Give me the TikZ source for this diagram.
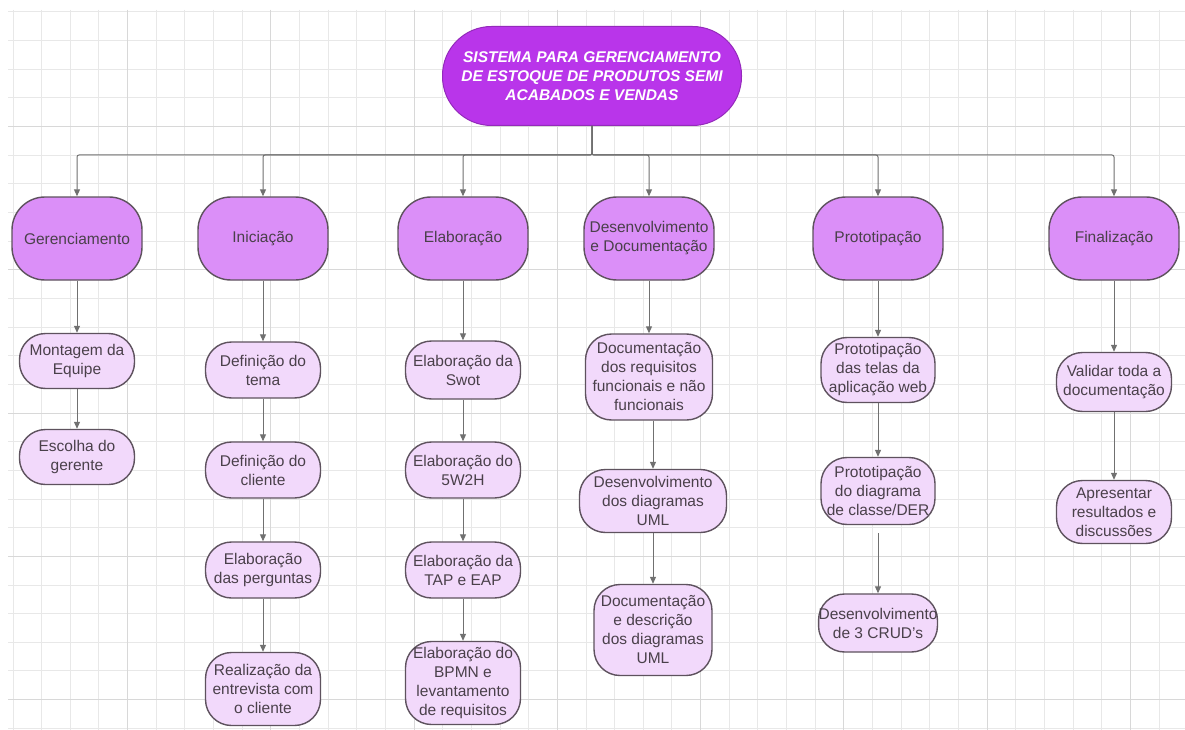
\documentclass[tikz,border=0pt]{standalone}
\usepackage{fontspec}
\setmainfont{Liberation Sans}
\usepackage{tikz}
\usetikzlibrary{arrows.meta, positioning, calc}
\definecolor{gridminor}{HTML}{E8E8E8}
\definecolor{gridmajor}{HTML}{D8D8D8}
\definecolor{titlefill}{HTML}{B935EA}
\definecolor{phasefill}{HTML}{DB8FF8}
\definecolor{taskfill}{HTML}{F2D9FB}
\definecolor{boxline}{HTML}{5E525E}
\definecolor{boxtext}{HTML}{4A404A}
\definecolor{linkgray}{HTML}{707070}
\tikzset{titlebox/.style={draw=titlefill!80!black, line width=1pt, fill=titlefill, rounded corners=49pt,
        minimum width=299pt, minimum height=99pt, inner sep=0pt, align=center, text=white,
        font=\fontsize{15.5}{19}\selectfont\bfseries\itshape},
    phasebox/.style={draw=boxline, line width=1.4pt, fill=phasefill, rounded corners=33pt,
        minimum width=130pt, minimum height=83pt, inner sep=0pt, align=center, text=boxtext,
        font=\fontsize{15.5}{19}\selectfont},
    taskbox/.style={draw=boxline, line width=1.4pt, fill=taskfill, rounded corners=26pt,
        minimum width=115pt, minimum height=56pt, inner sep=0pt, align=center, text=boxtext,
        font=\fontsize{15.5}{19}\selectfont},
    link/.style={draw=linkgray, line width=1pt, rounded corners=2pt, -{Triangle[length=7pt,width=6pt]}}}

\begin{document}
\begin{tikzpicture}[x=1pt, y=-1pt]
\useasboundingbox (0,0) rectangle (1185,730);
\fill[white] (0,0) rectangle (1185,730);
\foreach \i in {0,...,40}
    \draw[gridminor, line width=1pt] ({13+28.65*\i},10) -- ({13+28.65*\i},730);
\foreach \i in {0,...,25}
    \draw[gridminor, line width=1pt] (8,{12+28.65*\i}) -- (1185,{12+28.65*\i});
\foreach \i in {4,9,...,39}
    \draw[gridmajor, line width=1pt] ({13+28.65*\i},10) -- ({13+28.65*\i},730);
\foreach \i in {4,9,...,24}
    \draw[gridmajor, line width=1pt] (8,{12+28.65*\i}) -- (1185,{12+28.65*\i});

\node[titlebox] (sistema) at (592,76) {SISTEMA PARA GERENCIAMENTO\\DE ESTOQUE DE PRODUTOS SEMI\\ACABADOS E VENDAS};
\coordinate (hub) at (592,155);

\node[phasebox] (ger) at (77,238.5) {Gerenciamento};
\node[phasebox] (ini) at (263,238.5) {Iniciação};
\node[phasebox] (ela) at (463,238.5) {Elaboração};
\node[phasebox] (des) at (649,238.5) {Desenvolvimento\\e Documentação};
\node[phasebox] (pro) at (878,238.5) {Prototipação};
\node[phasebox] (fin) at (1114,238.5) {Finalização};

\node[taskbox, minimum height=55pt] (montagem) at (77,361) {Montagem da\\Equipe};
\node[taskbox, minimum height=55pt] (escolha) at (77,457) {Escolha do\\gerente};

\node[taskbox] (tema) at (263,370) {Definição do\\tema};
\node[taskbox] (cliente) at (263,470) {Definição do\\cliente};
\node[taskbox] (perguntas) at (263,570) {Elaboração\\das perguntas};
\node[taskbox, minimum height=73pt] (entrevista) at (263,689) {Realização da\\entrevista com\\o cliente};

\node[taskbox, minimum height=58pt] (swot) at (463,370) {Elaboração da\\Swot};
\node[taskbox] (cincow) at (463,470) {Elaboração do\\5W2H};
\node[taskbox] (tap) at (463,570) {Elaboração da\\TAP e EAP};
\node[taskbox, minimum height=83pt] (bpmn) at (463,683) {Elaboração do\\BPMN e\\levantamento\\de requisitos};

\node[taskbox, minimum width=127pt, minimum height=86pt] (docreq) at (649,377) {Documentação\\dos requisitos\\funcionais e não\\funcionais};
\node[taskbox, minimum width=147pt, minimum height=63pt] (diagramas) at (653,501) {Desenvolvimento\\dos diagramas\\UML};
\node[taskbox, minimum width=118pt, minimum height=91pt] (descricao) at (653,630) {Documentação\\e descrição\\dos diagramas\\UML};

\node[taskbox, minimum width=114pt, minimum height=65pt] (telas) at (878,370) {Prototipação\\das telas da\\aplicação web};
\node[taskbox, minimum width=114pt, minimum height=67pt] (classe) at (878,491) {Prototipação\\do diagrama\\de classe/DER};
\node[taskbox, minimum width=117pt, minimum height=58pt] (crud) at (878,623) {Desenvolvimento\\de 3 CRUD's};

\node[taskbox, minimum height=59pt] (validar) at (1114,382) {Validar toda a\\documentação};
\node[taskbox, minimum height=63pt] (apresentar) at (1114,512) {Apresentar\\resultados e\\discussões};

\foreach \p in {ger,ini,ela,des,pro,fin}
    \draw[link] (sistema.south) -- (hub) -| (\p.north);

\draw[link] (ger) -- (montagem);
\draw[link] (montagem) -- (escolha);
\draw[link] (ini) -- (tema);
\draw[link] (tema) -- (cliente);
\draw[link] (cliente) -- (perguntas);
\draw[link] (perguntas) -- (entrevista);
\draw[link] (ela) -- (swot);
\draw[link] (swot) -- (cincow);
\draw[link] (cincow) -- (tap);
\draw[link] (tap) -- (bpmn);
\draw[link] (des) -- (docreq);
\draw[link] (docreq.south -| diagramas) -- (diagramas);
\draw[link] (diagramas) -- (descricao);
\draw[link] (pro) -- (telas);
\draw[link] (telas) -- (classe);
\draw[link, shorten <=8pt] (classe) -- (crud);
\draw[link] (fin) -- (validar);
\draw[link] (validar) -- (apresentar);
\end{tikzpicture}
\end{document}
